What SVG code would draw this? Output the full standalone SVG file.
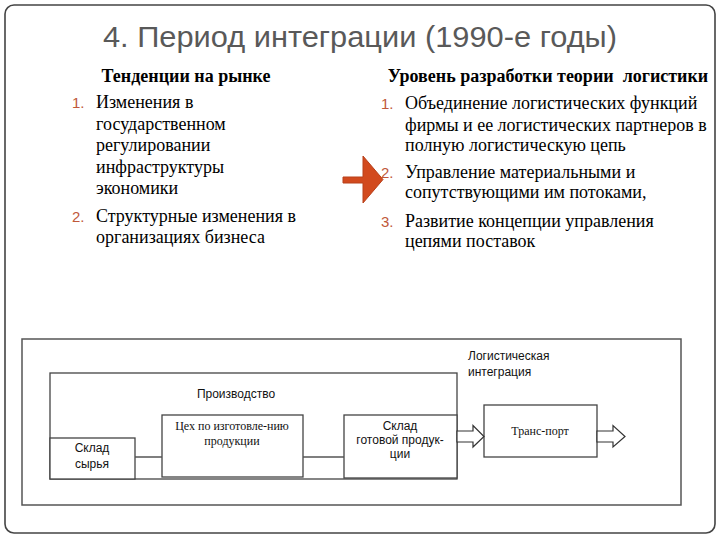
<svg xmlns="http://www.w3.org/2000/svg" width="720" height="540" viewBox="0 0 720 540">
<style>
.title{font-family:"Liberation Sans",Arial,sans-serif;font-size:29px;fill:#595959}
.hd{font-family:"Liberation Serif","Times New Roman",serif;font-size:18px;font-weight:bold;fill:#000;white-space:pre}
.bt{font-family:"Liberation Serif","Times New Roman",serif;font-size:18px;fill:#000}
.num{font-family:"Liberation Sans",Arial,sans-serif;font-size:15px;fill:#c0583a}
.box{fill:#fff;stroke:#444;stroke-width:1.3}
.ln{stroke:#555;stroke-width:1.5;fill:none}
.ds{font-family:"Liberation Sans",Arial,sans-serif;font-size:12px;fill:#111}
.dr{font-family:"Liberation Serif","Times New Roman",serif;font-size:12px;fill:#111}
.harrow{fill:#fff;stroke:#333;stroke-width:1.2}
</style>
<rect x="5" y="5" width="710" height="528" rx="9" ry="9" fill="#fff" stroke="#444" stroke-width="1.6"/>
<text class="title" x="103" y="47" textLength="514" lengthAdjust="spacingAndGlyphs">4. Период интеграции (1990-е годы)</text>
<g id="left-list">
<text class="hd" x="186" y="82" text-anchor="middle">Тенденции на рынке</text>
<text class="num" x="72" y="108">1.</text>
<text class="bt" x="96" y="108">Изменения в</text>
<text class="bt" x="96" y="130">государственном</text>
<text class="bt" x="96" y="151">регулировании</text>
<text class="bt" x="96" y="173">инфраструктуры</text>
<text class="bt" x="96" y="194">экономики</text>
<text class="num" x="72" y="222">2.</text>
<text class="bt" x="96" y="222">Структурные изменения в</text>
<text class="bt" x="96" y="243">организациях бизнеса</text>
</g>
<g id="right-list">
<text class="hd" x="548" y="82" text-anchor="middle">Уровень разработки теории  логистики</text>
<text class="num" x="381" y="109">1.</text>
<text class="bt" x="405" y="109">Объединение логистических функций</text>
<text class="bt" x="405" y="131">фирмы и ее логистических партнеров в</text>
<text class="bt" x="405" y="151">полную логистическую цепь</text>
<text class="num" x="381" y="178">2.</text>
<text class="bt" x="405" y="178">Управление материальными и</text>
<text class="bt" x="405" y="198">сопутствующими им потоками,</text>
<text class="num" x="381" y="227">3.</text>
<text class="bt" x="405" y="227">Развитие концепции управления</text>
<text class="bt" x="405" y="247">цепями поставок</text>
</g>
<g id="big-arrow">
<polygon points="343,177 363,177 363,156 383,179.5 363,203 363,183 343,183" fill="#d24a1e" stroke="#b8401a" stroke-width="1"/>
</g>
<g id="frame">
<rect x="22" y="339" width="659" height="166" fill="none" stroke="#555" stroke-width="1.5"/>
</g>
<g id="production">
<rect class="box" x="50" y="373" width="407" height="106"/>
<text class="ds" x="236" y="398" text-anchor="middle">Производство</text>
</g>
<g id="raw-store">
<rect class="box" x="50" y="438" width="85" height="41"/>
<text class="ds" x="92" y="452" text-anchor="middle">Склад</text>
<text class="ds" x="92" y="468" text-anchor="middle">сырья</text>
</g>
<g id="workshop">
<rect class="box" x="162" y="415" width="141" height="62"/>
<text class="dr" x="232" y="430" text-anchor="middle">Цех по изготовле-нию</text>
<text class="dr" x="232" y="445" text-anchor="middle">продукции</text>
</g>
<g id="finished-store">
<rect class="box" x="344" y="415" width="113" height="63"/>
<text class="ds" x="400" y="430" text-anchor="middle">Склад</text>
<text class="ds" x="400" y="444" text-anchor="middle">готовой продук-</text>
<text class="ds" x="400" y="458" text-anchor="middle">ции</text>
</g>
<g id="transport">
<rect class="box" x="484" y="405" width="113" height="52"/>
<text class="dr" x="540" y="435" text-anchor="middle">Транс-порт</text>
</g>
<g id="logistic-label">
<text class="ds" x="468" y="360">Логистическая</text>
<text class="ds" x="468" y="376">интеграция</text>
</g>
<g id="connectors">
<line class="ln" x1="135" y1="457" x2="162" y2="457"/>
<line class="ln" x1="303" y1="457" x2="344" y2="457"/>
<polygon class="harrow" points="457,431 473,431 473,425.5 484,436.5 473,447 473,442 457,442"/>
<polygon class="harrow" points="597,431 613,431 613,425.5 625,436.5 613,447 613,442 597,442"/>
</g>
</svg>
